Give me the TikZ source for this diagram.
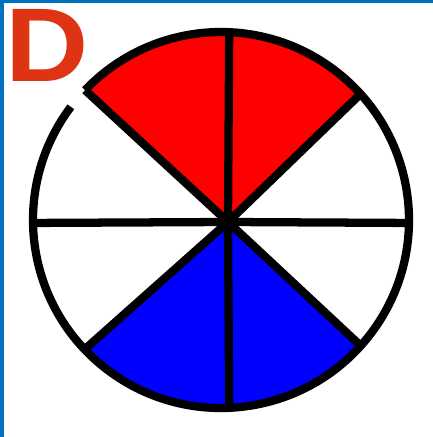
\documentclass[tikz,border=0pt]{standalone}
\usepackage{fontspec}
\setmainfont{Liberation Sans}
\usetikzlibrary{calc}
\definecolor{framblue}{RGB}{0,112,192}
\definecolor{letterred}{RGB}{222,52,20}
\definecolor{sectred}{RGB}{255,0,0}
\definecolor{sectblue}{RGB}{0,0,255}
\tikzset{rim/.style={black, line width=6.2pt}}

\begin{document}
\begin{tikzpicture}[x=0.75pt,y=0.75pt]
\useasboundingbox (0,0) rectangle (433,437);
% frame, only top and left edge show
\fill[framblue] (0,434) rectangle (433,437);
\fill[framblue] (0,0) rectangle (4,437);

  \coordinate (C) at (221,217); % centre of the circle
  \coordinate (H) at (228,215); % where the spokes meet
  \def\rad{188}

  % ends of the spokes on the rim
  \coordinate (T) at ($(C)+(87.5:\rad)$);
  \coordinate (B) at ($(C)+(272.5:\rad)$);
  \coordinate (L) at ($(C)+(180.9:\rad)$);
  \coordinate (R) at ($(C)+(-0.9:\rad)$);
  \coordinate (UL) at ($(C)+(136.3:\rad)$);
  \coordinate (UR) at ($(C)+(42.1:\rad)$);
  \coordinate (LL) at ($(C)+(223.5:\rad)$);
  \coordinate (LR) at ($(C)+(318:\rad)$);

  % shaded pieces
  \fill[sectred] (H) -- (UL) arc[start angle=136.3, end angle=42.1, radius=\rad] -- cycle;
  \fill[sectblue] (H) -- (LL) arc[start angle=223.5, end angle=318, radius=\rad] -- cycle;

  % spokes
  \foreach \p in {T,B,L,R,UL,UR,LL,LR}
    \draw[rim] (H) -- (\p);

  % rim, open a little at upper left
  \draw[rim] (C) ++(143:\rad) arc[start angle=143, end angle=496.3, radius=\rad];

\node[text=letterred, font=\bfseries\fontsize{78.6}{80}\selectfont, inner sep=0pt, xscale=1.1] (D) at (47,391.5) {D};
\end{tikzpicture}
\end{document}
